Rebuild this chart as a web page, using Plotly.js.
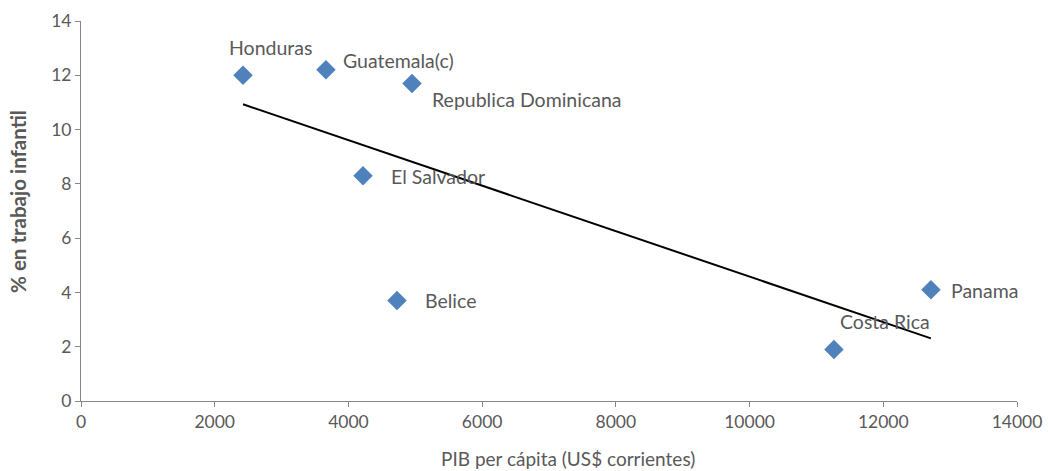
<!DOCTYPE html>
<html>
<head>
<meta charset="utf-8">
<script src="https://cdn.plot.ly/plotly-3.0.1.min.js"></script>
<style>html,body{margin:0;padding:0;background:#fff;}#chart{width:1048px;height:471px;}</style>
</head>
<body>
<div id="chart"></div>
<script>
const countries = ["Honduras", "Guatemala(c)", "Republica Dominicana", "El Salvador", "Belice", "Costa Rica", "Panama"];
const pibPerCapita = [2423, 3664, 4951, 4218, 4726, 11262, 12713];
const trabajoInfantil = [12.0, 12.2, 11.7, 8.3, 3.7, 1.9, 4.1];
const xTicks = [0, 2000, 4000, 6000, 8000, 10000, 12000, 14000];
const yTicks = [0, 2, 4, 6, 8, 10, 12, 14];
const xTitle = "PIB per cápita (US$ corrientes)";
const yTitle = "% en trabajo infantil";

// label offsets (pixels) relative to each point
const labelShiftX = [-16, 15, 18, 26, 26, 4, 18];
const labelShiftY = [28, 9, -16, -1, 0, 28, -1];

// linear least squares trendline
const n = pibPerCapita.length;
const mx = pibPerCapita.reduce((a, b) => a + b, 0) / n;
const my = trabajoInfantil.reduce((a, b) => a + b, 0) / n;
let sxy = 0, sxx = 0;
for (let i = 0; i < n; i++) {
  sxy += (pibPerCapita[i] - mx) * (trabajoInfantil[i] - my);
  sxx += (pibPerCapita[i] - mx) ** 2;
}
const slope = sxy / sxx;
const intercept = my - slope * mx;
const xmin = Math.min(...pibPerCapita), xmax = Math.max(...pibPerCapita);
const trendX = [xmin, xmax];
const trendY = trendX.map(x => intercept + slope * x);

const font = "Lato, 'Open Sans', sans-serif";
const grey = "#595959";

const traces = [
  {
    x: trendX, y: trendY, mode: "lines", type: "scatter",
    line: {color: "#000000", width: 2}, hoverinfo: "skip", showlegend: false
  },
  {
    x: pibPerCapita, y: trabajoInfantil, mode: "markers", type: "scatter",
    marker: {symbol: "diamond", size: 15, color: "#4F81BD"},
    text: countries, showlegend: false
  }
];

const annotations = countries.map((c, i) => ({
  x: pibPerCapita[i], y: trabajoInfantil[i], xref: "x", yref: "y",
  text: c, showarrow: false, xanchor: "left", yanchor: "middle",
  xshift: labelShiftX[i], yshift: labelShiftY[i],
  font: {family: font, size: 19.5, color: grey}
}));

annotations.push({
  text: xTitle, xref: "paper", yref: "paper", x: 0.52, y: 0,
  xanchor: "center", yanchor: "middle", yshift: -57, showarrow: false,
  font: {family: font, size: 19, color: grey}
});
annotations.push({
  text: "<b>" + yTitle + "</b>", xref: "paper", yref: "paper", x: 0, y: 0.524,
  xanchor: "center", yanchor: "middle", xshift: -63, showarrow: false, textangle: -90,
  font: {family: font, size: 20.5, color: grey}
});

const layout = {
  width: 1048, height: 471,
  margin: {l: 81, r: 31, t: 21, b: 70},
  paper_bgcolor: "#ffffff", plot_bgcolor: "#ffffff",
  showlegend: false,
  xaxis: {
    range: [0, 14000], tickvals: xTicks, ticktext: xTicks.map(String),
    showgrid: false, zeroline: false, showline: true, linecolor: "#868686", linewidth: 1,
    ticks: "outside", ticklen: 5, tickcolor: "#868686",
    tickfont: {family: font, size: 17.5, color: grey}
  },
  yaxis: {
    range: [0, 14], tickvals: yTicks, ticktext: yTicks.map(String),
    showgrid: false, zeroline: false, showline: true, linecolor: "#868686", linewidth: 1,
    ticks: "outside", ticklen: 5, tickcolor: "#868686",
    tickfont: {family: font, size: 17.5, color: grey}
  },
  annotations: annotations
};

Plotly.newPlot("chart", traces, layout, {displayModeBar: false, staticPlot: true});
</script>
</body>
</html>
